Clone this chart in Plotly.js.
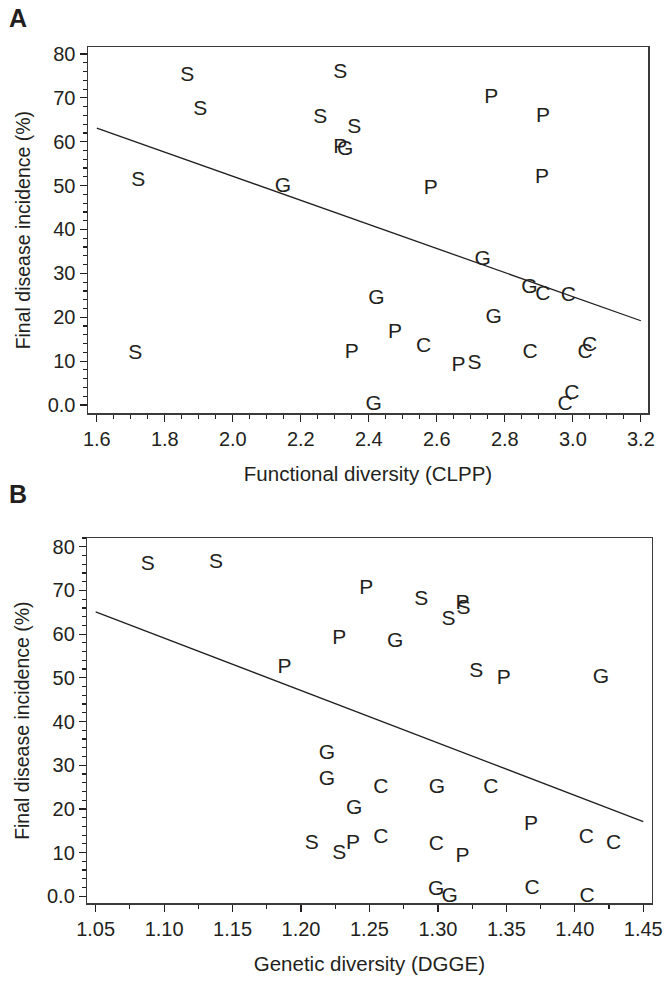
<!DOCTYPE html>
<html>
<head>
<meta charset="utf-8">
<script src="https://cdn.plot.ly/plotly-3.0.1.min.js"></script>
<style>
  html, body { margin: 0; padding: 0; background: #fff; }
  #chart { width: 664px; height: 981px; }
</style>
</head>
<body>
<div id="chart"></div>
<script>
// ---------- Panel A: functional diversity (CLPP) ----------
const aLabels = ['S','S','S','S','S','S','S','S',
                 'P','P','P','P','P','P','P','P',
                 'G','G','G','G','G','G','G',
                 'C','C','C','C','C','C','C','C'];
const aX = [1.866, 1.904, 2.316, 2.257, 2.357, 1.722, 1.713, 2.711,
            2.316, 2.760, 2.912, 2.909, 2.582, 2.350, 2.477, 2.664,
            2.330, 2.147, 2.735, 2.422, 2.414, 2.767, 2.872,
            2.561, 2.912, 2.987, 2.874, 3.049, 3.036, 2.997, 2.977];
const aY = [75.0, 67.4, 75.8, 65.5, 63.3, 51.1, 11.7, 9.3,
            58.6, 70.1, 65.7, 51.7, 49.2, 11.9, 16.4, 8.9,
            58.1, 49.8, 33.0, 24.2, 0.0, 19.9, 26.8,
            13.3, 25.2, 24.8, 11.9, 13.4, 11.9, 2.5, 0.0];
const aFitX = [1.6, 3.2];
const aFitY = [63.1, 19.2];
const aXTicks = [1.6, 1.8, 2.0, 2.2, 2.4, 2.6, 2.8, 3.0, 3.2];
const aXTickText = ['1.6','1.8','2.0','2.2','2.4','2.6','2.8','3.0','3.2'];

// ---------- Panel B: genetic diversity (DGGE) ----------
const bLabels = ['S','S','S','S','S','S','S','S',
                 'P','P','P','P','P','P','P','P',
                 'G','G','G','G','G','G','G','G',
                 'C','C','C','C','C','C','C','C'];
const bX = [1.088, 1.138, 1.2878, 1.3187, 1.3077, 1.328, 1.2079, 1.228,
            1.2476, 1.228, 1.188, 1.318, 1.348, 1.2379, 1.368, 1.318,
            1.2688, 1.419, 1.2189, 1.2189, 1.2388, 1.2993, 1.2988, 1.3085,
            1.2583, 1.2583, 1.3387, 1.2988, 1.4084, 1.4284, 1.3687, 1.4089];
const bY = [75.8, 76.3, 67.8, 65.9, 63.4, 51.4, 12.0, 9.7,
            70.5, 59.0, 52.2, 66.9, 49.9, 12.1, 16.3, 9.1,
            58.3, 50.0, 32.7, 26.6, 20.1, 24.9, 1.6, 0.0,
            24.9, 13.3, 24.9, 11.7, 13.3, 12.0, 1.8, 0.0];
const bFitX = [1.05, 1.45];
const bFitY = [65.1, 17.1];
const bXTicks = [1.05, 1.10, 1.15, 1.20, 1.25, 1.30, 1.35, 1.40, 1.45];
const bXTickText = ['1.05','1.10','1.15','1.20','1.25','1.30','1.35','1.40','1.45'];

// ---------- shared ----------
const yTicks = [0, 10, 20, 30, 40, 50, 60, 70, 80];
const yTickText = ['0.0','10','20','30','40','50','60','70','80'];
const yTitle = 'Final disease incidence (%)';
const aXTitle = 'Functional diversity (CLPP)';
const bXTitle = 'Genetic diversity (DGGE)';
const panelLetters = ['A', 'B'];

const FONT = 'Liberation Sans, Arial, Helvetica, sans-serif';
const INK = '#231f20';
const W = 664, H = 981;

const traces = [
  { x: aX, y: aY, text: aLabels, mode: 'text', type: 'scatter',
    textposition: 'middle center', textfont: { family: FONT, size: 21, color: INK },
    xaxis: 'x', yaxis: 'y', hoverinfo: 'x+y+text', cliponaxis: false },
  { x: aFitX, y: aFitY, mode: 'lines', type: 'scatter',
    line: { color: INK, width: 1.3 }, xaxis: 'x', yaxis: 'y' },
  { x: bX, y: bY, text: bLabels, mode: 'text', type: 'scatter',
    textposition: 'middle center', textfont: { family: FONT, size: 21, color: INK },
    xaxis: 'x2', yaxis: 'y2', hoverinfo: 'x+y+text', cliponaxis: false },
  { x: bFitX, y: bFitY, mode: 'lines', type: 'scatter',
    line: { color: INK, width: 1.3 }, xaxis: 'x2', yaxis: 'y2' }
];

function xAxis(domain, range, tickvals, ticktext, minorD, title) {
  return {
    domain: domain, range: range, tickvals: tickvals, ticktext: ticktext,
    ticks: 'outside', ticklen: 7, tickwidth: 1.2, tickcolor: INK,
    minor: { dtick: minorD, ticks: 'outside', ticklen: 4, tickwidth: 1.2, tickcolor: INK, showgrid: false },
    showline: true, linecolor: '#3a3a3a', linewidth: 1.5, mirror: true,
    showgrid: false, zeroline: false,
    tickfont: { family: FONT, size: 20, color: INK },
    title: { text: title, font: { family: FONT, size: 20.5, color: INK }, standoff: 18 }
  };
}
function yAxis(domain, range, anchor) {
  return {
    domain: domain, range: range, anchor: anchor, tickvals: yTicks, ticktext: yTickText,
    ticks: 'outside', ticklen: 7, tickwidth: 1.2, tickcolor: INK,
    minor: { dtick: 2, ticks: 'outside', ticklen: 4, tickwidth: 1.2, tickcolor: INK, showgrid: false },
    showline: true, linecolor: '#3a3a3a', linewidth: 1.5, mirror: true,
    showgrid: false, zeroline: false,
    tickfont: { family: FONT, size: 20, color: INK },
    title: { text: yTitle, font: { family: FONT, size: 19.5, color: INK }, standoff: 12 }
  };
}

const layout = {
  width: W, height: H,
  margin: { l: 0, r: 0, t: 0, b: 0 },
  paper_bgcolor: '#fff', plot_bgcolor: '#fff',
  showlegend: false,
  xaxis: Object.assign(xAxis([88 / W, 648 / W], [1.574, 3.221], aXTicks, aXTickText, 0.05, aXTitle), { anchor: 'y' }),
  yaxis: yAxis([1 - 413.3 / H, 1 - 47 / H], [-1.9, 81.6], 'x'),
  xaxis2: Object.assign(xAxis([87.3 / W, 651.5 / W], [1.0439, 1.456], bXTicks, bXTickText, 0.025, bXTitle), { anchor: 'y2' }),
  yaxis2: yAxis([1 - 903.3 / H, 1 - 538 / H], [-1.6, 82.0], 'x2'),
  annotations: [
    { text: '<b>' + panelLetters[0] + '</b>', xref: 'paper', yref: 'paper', x: 7 / W, y: 1 - 18 / H,
      xanchor: 'left', yanchor: 'middle', showarrow: false, font: { family: FONT, size: 25, color: INK } },
    { text: '<b>' + panelLetters[1] + '</b>', xref: 'paper', yref: 'paper', x: 7 / W, y: 1 - 494 / H,
      xanchor: 'left', yanchor: 'middle', showarrow: false, font: { family: FONT, size: 25, color: INK } }
  ]
};

Plotly.newPlot('chart', traces, layout, { displayModeBar: false, staticPlot: true });
</script>
</body>
</html>
